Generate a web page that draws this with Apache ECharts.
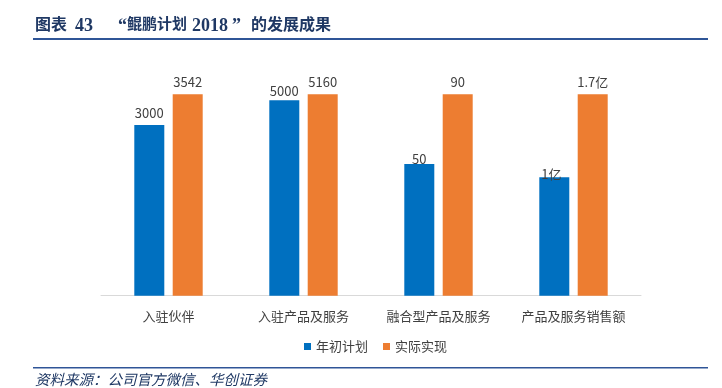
<!DOCTYPE html>
<html><head><meta charset="utf-8">
<script src="https://cdn.jsdelivr.net/npm/echarts@6/dist/echarts.min.js"></script>
<style>html,body{margin:0;padding:0;background:#fff}#c{width:722px;height:388px}</style>
</head><body><div id="c"></div>
<script>
var categories = ['入驻伙伴', '入驻产品及服务', '融合型产品及服务', '产品及服务销售额'];
var seriesNames = ['年初计划', '实际实现'];
var planHeights = [84.8, 97.0, 65.4, 58.8];
var actualHeights = [100, 100, 100, 100];
// value labels shown on the bars
var planLabels = ['3000', '5000', '50', '1亿'];
var actualLabels = ['3542', '5160', '90', '1.7亿'];

var planLabelStyle = [{distance: 5}, {distance: 3}, {distance: -2}, {distance: -3.5, offset: [-3, 0]}];

var FONT = '"Noto Sans CJK SC", "Open Sans", sans-serif';
var TFONT_CJK = 'bold 16px "Liberation Serif", "Noto Sans CJK SC", serif';
var TFONT_NUM = 'bold 18px "Liberation Serif", "Noto Sans CJK SC", serif';
var TCOL = '#1F3864';
var chart = echarts.init(document.getElementById('c'));
chart.setOption({
  animation: false,
  grid: {left: 101, right: 81, top: 94.3, bottom: 92.3},
  xAxis: {
    type: 'category', data: categories,
    axisLine: {lineStyle: {color: '#D9D9D9', width: 1}},
    axisTick: {show: false},
    axisLabel: {interval: 0, color: '#404040', fontSize: 13, fontFamily: FONT, margin: 14}
  },
  yAxis: {type: 'value', min: 0, max: 100, show: false, splitLine: {show: false}},
  legend: {
    left: 299, top: 335, itemWidth: 7, itemHeight: 7, itemGap: 15, icon: 'rect',
    textStyle: {color: '#404040', fontSize: 13, fontFamily: FONT},
    data: seriesNames
  },
  series: [
    {
      name: seriesNames[0], type: 'bar', barWidth: 30, barGap: '28%',
      itemStyle: {color: '#0070C0'},
      data: planHeights.map(function (v, i) {
        var l = Object.assign({}, planLabelStyle[i]);
        l.formatter = planLabels[i];
        return {value: v, label: l};
      }),
      label: {show: true, position: 'top', color: '#404040', fontSize: 13, fontFamily: FONT}
    },
    {
      name: seriesNames[1], type: 'bar', barWidth: 30,
      itemStyle: {color: '#ED7D31'},
      data: actualHeights.map(function (v, i) {
        return {value: v, label: {formatter: actualLabels[i]}};
      }),
      label: {show: true, position: 'top', distance: 6, color: '#404040', fontSize: 13, fontFamily: FONT}
    }
  ],
  graphic: [
    {type: 'text', left: 35, top: 18, style: {text: '图表', fill: TCOL, font: TFONT_CJK}},
    {type: 'text', left: 75, top: 17, style: {text: '43', fill: TCOL, font: TFONT_NUM}},
    {type: 'text', left: 118, top: 17, style: {text: '“', fill: TCOL, font: TFONT_NUM}},
    {type: 'text', left: 127, top: 18, style: {text: '鲲鹏计划', fill: TCOL, font: 'bold 15px "Liberation Serif", "Noto Sans CJK SC", serif'}},
    {type: 'text', left: 192, top: 17, style: {text: '2018', fill: TCOL, font: TFONT_NUM}},
    {type: 'text', left: 232, top: 17, style: {text: '”', fill: TCOL, font: TFONT_NUM}},
    {type: 'text', left: 251, top: 18, style: {text: '的发展成果', fill: TCOL, font: TFONT_CJK}},
    {type: 'rect', shape: {x: 33, y: 38, width: 675, height: 2}, style: {fill: '#2F5597'}},
    {type: 'rect', shape: {x: 33, y: 367, width: 675, height: 1.5}, style: {fill: '#2F5597'}},
    {type: 'text', left: 35, top: 372, style: {text: '资料来源：公司官方微信、华创证券', fill: TCOL, font: 'italic 14.5px "Noto Sans CJK SC", sans-serif'}}
  ]
});
</script>
</body></html>
